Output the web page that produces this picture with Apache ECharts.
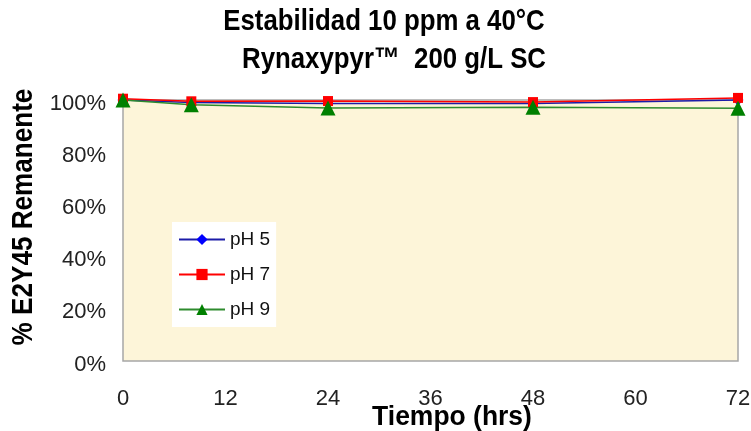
<!DOCTYPE html>
<html><head><meta charset="utf-8">
<script src="https://cdn.jsdelivr.net/npm/echarts@6/dist/echarts.min.js"></script>
<style>html,body{margin:0;padding:0;background:#fff}#c{width:751px;height:431px}</style>
</head><body><div id="c"></div>
<script>
const hours = [0, 8, 24, 48, 72];
const ph5 = [100, 99, 98.7, 98.7, 100];
const ph7 = [100.5, 99.5, 99.6, 99.2, 100.8];
const ph9 = [100, 98.2, 96.9, 97.2, 96.8];
const xTicks = [0, 12, 24, 36, 48, 60, 72];
const yTicks = [0, 20, 40, 60, 80, 100];
const titleLines = ['Estabilidad 10 ppm a 40°C', 'Rynaxypyr\u2122  200 g/L SC'];
const xName = 'Tiempo (hrs)';
const yName = '% E2Y45 Remanente';

const pair = (vals) => hours.map((h, i) => [h, vals[i]]);
const chart = echarts.init(document.getElementById('c'));
const font = 'Arial, "Liberation Sans", sans-serif';
const boldText = (text, x, y, size, sx, rot) => ({
  type: 'text', x: x, y: y, rotation: rot || 0, scaleX: sx, silent: true,
  style: {text: text, fontFamily: font, fontSize: size, fontWeight: 'bold', fill: '#000',
          align: 'center', verticalAlign: 'middle'}
});
chart.setOption({
  animation: false,
  graphic: [
    boldText(titleLines[0], 384, 22, 30, 0.86),
    boldText(titleLines[1], 394, 60, 30, 0.86),
    boldText(xName, 452, 418, 27, 0.98),
    boldText(yName, 24, 217, 29, 0.9, Math.PI / 2)
  ],
  grid: {left: 123, right: 13, top: 100, bottom: 70, show: true, outerBoundsMode: 'none',
         containLabel: false,
         backgroundColor: '#fdf5d9', borderColor: '#a6a6a6', borderWidth: 1.5},
  legend: {
    orient: 'vertical', left: 172, top: 222, backgroundColor: '#ffffff',
    padding: [8, 6, 8, 6], itemGap: 16, itemWidth: 46, itemHeight: 14,
    textStyle: {fontFamily: font, fontSize: 19, color: '#111'},
    data: ['pH 5', 'pH 7', 'pH 9']
  },
  xAxis: {
    type: 'value', min: 0, max: 72, interval: 12,
    axisLine: {show: false}, axisTick: {show: false}, splitLine: {show: false},
    axisLabel: {fontFamily: font, fontSize: 22, color: '#222', margin: 27,
      formatter: v => xTicks.includes(v) ? String(v) : ''}
  },
  yAxis: {
    type: 'value', min: 0, max: 100, interval: 20,
    axisLine: {show: false}, axisTick: {show: false}, splitLine: {show: false},
    axisLabel: {fontFamily: font, fontSize: 22, color: '#222', margin: 17,
      verticalAlign: 'top', lineHeight: 7,
      formatter: v => yTicks.includes(v) ? v + '%' : ''}
  },
  series: [
    {name: 'pH 5', type: 'line', data: pair(ph5), clip: false, symbol: 'diamond', symbolSize: 11,
     lineStyle: {color: '#1c1ca8', width: 1.5}, itemStyle: {color: '#0000ff'}},
    {name: 'pH 7', type: 'line', data: pair(ph7), clip: false, symbol: 'rect', symbolSize: 10,
     lineStyle: {color: '#ff0000', width: 1.5}, itemStyle: {color: '#ff0000'}},
    {name: 'pH 9', type: 'line', data: pair(ph9), clip: false, symbol: 'triangle', symbolSize: 15,
     lineStyle: {color: '#2e8b2e', width: 1.5}, itemStyle: {color: '#008000'}}
  ]
});
</script></body></html>
